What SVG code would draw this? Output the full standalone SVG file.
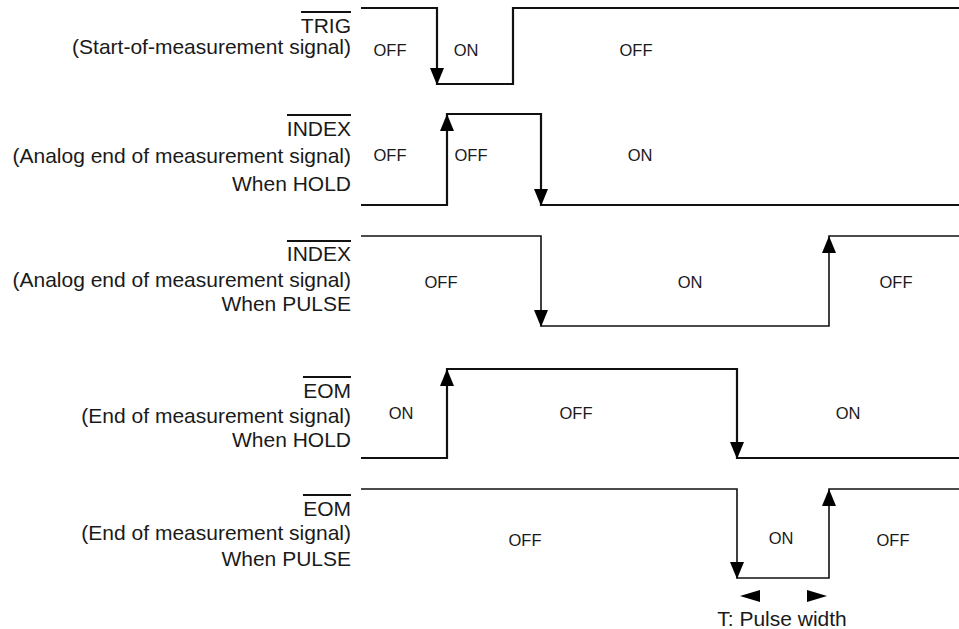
<svg xmlns="http://www.w3.org/2000/svg" width="959" height="629" viewBox="0 0 959 629">
<defs>
<style>
.lbl{font-family:"Liberation Sans",Arial,sans-serif;font-size:21px;fill:#1a1a1a;text-anchor:end}
.st{font-family:"Liberation Sans",Arial,sans-serif;font-size:16.5px;fill:#1a1a1a;text-anchor:middle}
.wave{fill:none;stroke:#111;stroke-width:2.2;stroke-linejoin:miter}
.thin{stroke-width:1.6}
.ovl{stroke:#111;stroke-width:2}
.ah{fill:#000}
</style>
</defs>
<rect width="959" height="629" fill="#fff"/>

<g id="trig">
<text class="lbl" x="351" y="33">TRIG</text>
<line class="ovl" x1="301" y1="12" x2="351" y2="12"/>
<text class="lbl" x="351" y="54">(Start-of-measurement signal)</text>
<text class="st" x="390" y="56">OFF</text>
<text class="st" x="466" y="56">ON</text>
<text class="st" x="636" y="56">OFF</text>
</g>

<g id="index-hold">
<text class="lbl" x="351" y="136">INDEX</text>
<line class="ovl" x1="287" y1="115" x2="351" y2="115"/>
<text class="lbl" x="351" y="163">(Analog end of measurement signal)</text>
<text class="lbl" x="351" y="191">When HOLD</text>
<text class="st" x="390" y="161">OFF</text>
<text class="st" x="471" y="161">OFF</text>
<text class="st" x="640" y="161">ON</text>
</g>

<g id="index-pulse">
<text class="lbl" x="351" y="261">INDEX</text>
<line class="ovl" x1="287" y1="241" x2="351" y2="241"/>
<text class="lbl" x="351" y="287">(Analog end of measurement signal)</text>
<text class="lbl" x="351" y="311">When PULSE</text>
<text class="st" x="441" y="288">OFF</text>
<text class="st" x="690" y="288">ON</text>
<text class="st" x="896" y="288">OFF</text>
</g>

<g id="eom-hold">
<text class="lbl" x="351" y="398">EOM</text>
<line class="ovl" x1="303" y1="377" x2="351" y2="377"/>
<text class="lbl" x="351" y="423">(End of measurement signal)</text>
<text class="lbl" x="351" y="447">When HOLD</text>
<text class="st" x="401" y="419">ON</text>
<text class="st" x="576" y="419">OFF</text>
<text class="st" x="848" y="419">ON</text>
</g>

<g id="eom-pulse">
<text class="lbl" x="351" y="516">EOM</text>
<line class="ovl" x1="303" y1="495" x2="351" y2="495"/>
<text class="lbl" x="351" y="540">(End of measurement signal)</text>
<text class="lbl" x="351" y="566">When PULSE</text>
<text class="st" x="525" y="546">OFF</text>
<text class="st" x="781" y="544">ON</text>
<text class="st" x="893" y="546">OFF</text>
<text class="lbl" x="782" y="626" style="text-anchor:middle">T: Pulse width</text>
</g>

<g id="connectors">
<path class="wave" d="M361,8 H437 V84 H513 V8 H959"/>
<polygon class="ah" points="430,68 444,68 437,85"/>

<path class="wave" d="M361,205 H447 V114 H541 V205 H959"/>
<polygon class="ah" points="440,131 454,131 447,114"/>
<polygon class="ah" points="534,189 548,189 541,206"/>

<path class="wave thin" d="M361,236 H541 V326 H829 V236 H959"/>
<polygon class="ah" points="534,310 548,310 541,327"/>
<polygon class="ah" points="822,253 836,253 829,236"/>

<path class="wave" d="M361,458 H447 V369 H737 V458 H959"/>
<polygon class="ah" points="440,386 454,386 447,369"/>
<polygon class="ah" points="730,442 744,442 737,459"/>

<path class="wave thin" d="M361,489 H737 V578 H829 V489 H959"/>
<polygon class="ah" points="730,562 744,562 737,579"/>
<polygon class="ah" points="822,506 836,506 829,489"/>

<polygon class="ah" points="740,596 760,590 760,602"/>
<polygon class="ah" points="827,596 807,590 807,602"/>
</g>
</svg>
